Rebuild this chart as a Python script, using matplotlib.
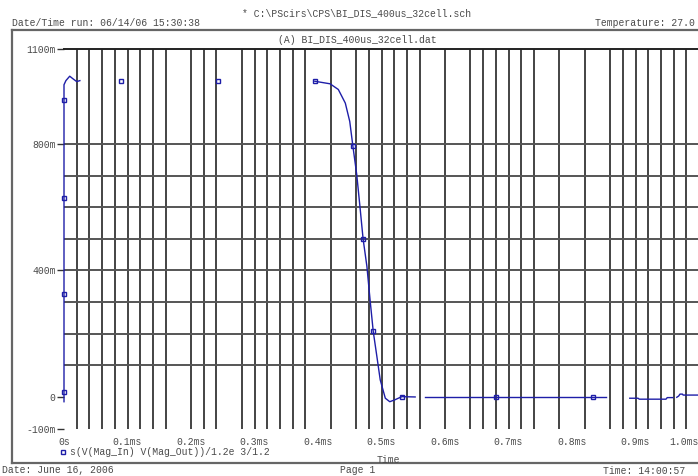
import matplotlib as mpl
mpl.use('Agg')
import matplotlib.pyplot as plt
from matplotlib.lines import Line2D

# PSpice probe output, time in ms, value in "m" units
W, H = 698, 476

rise_t = [0, 0, 0, 0, 0, 0, 0.003, 0.009, 0.014, 0.020, 0.025]
rise_v = [-15, 16, 326, 630, 940, 987, 1000, 1014, 1006, 997, 1000]

fall_t = [0.395, 0.419, 0.432, 0.443, 0.450, 0.455, 0.461, 0.466, 0.471, 0.477,
          0.482, 0.487, 0.492, 0.498, 0.506, 0.513, 0.521, 0.532, 0.553]
fall_v = [998, 990, 972, 929, 871, 792, 703, 603, 500, 413,
          307, 207, 138, 54, -4, -15, -9, 1, 0]

flat1_t = [0.568, 0.854]
flat1_v = [-1, -1]

flat2_t = [0.891, 0.904, 0.906, 0.948, 0.950, 0.959]
flat2_v = [-4, -4, -7, -7, -2, -2]

flat3_t = [0.965, 0.968, 0.970, 0.974, 0.975, 1.0]
flat3_v = [-1, 3, 9, 9, 6, 6]

mark_t = [0, 0, 0, 0, 0.090, 0.243, 0.395, 0.455, 0.471, 0.487, 0.532, 0.680, 0.833]
mark_v = [16, 326, 630, 940, 1000, 1000, 998, 792, 500, 207, 1, -1, -1]

xticks = [0.0, 0.1, 0.2, 0.3, 0.4, 0.5, 0.6, 0.7, 0.8, 0.9, 1.0]
xlabels = ['0s', '0.1ms', '0.2ms', '0.3ms', '0.4ms', '0.5ms',
           '0.6ms', '0.7ms', '0.8ms', '0.9ms', '1.0ms']
yticks = [-100, 0, 400, 800, 1100]
ylabels = ['-100m', '0', '400m', '800m', '1100m']

hgrid = [100, 200, 300, 400, 500, 600, 700, 800]
missing = [9, 13, 20, 22, 29, 31, 38, 40, 42]   # vertical lines lost in the print
vgrid = [k * 0.02 for k in range(1, 50) if k not in missing]

BLUE = '#1e1ea8'
TXT = '#4a4a4a'
FONT = 'Liberation Mono'
FS = 7

fig = plt.figure(figsize=(W / 100, H / 100), dpi=100)

def px(x, y):
    return x / W, 1 - y / H

l, b = px(64, 428.6)
r, t = px(699, 49)
ax = fig.add_axes([l, b, r - l, t - b])
ax.set_xlim(0, 1.0)
ax.set_ylim(-100, 1100)

# grid
ax.vlines(vgrid, -100, 1100, color='#111111', lw=1.1, zorder=1)
ax.hlines(hgrid, 0, 1.0, color='#555555', lw=1.4, zorder=1)

# trace
for tt, vv in [(rise_t, rise_v), (fall_t, fall_v), (flat1_t, flat1_v),
               (flat2_t, flat2_v), (flat3_t, flat3_v)]:
    ax.plot(tt, vv, color=BLUE, lw=1.0, zorder=3, clip_on=False)
ax.plot(mark_t, mark_v, ls='none', marker='s', ms=3.2, mfc='none', mec=BLUE,
        mew=1.0, zorder=4, clip_on=False)

for s in ['left', 'right', 'bottom']:
    ax.spines[s].set_visible(False)
ax.spines['top'].set_color('#222222')
ax.spines['top'].set_linewidth(1.4)

ax.set_xticks(xticks)
ax.set_xticklabels(xlabels, family=FONT, fontsize=FS, color=TXT)
ax.tick_params(axis='x', length=0, pad=6)
ax.xaxis.get_ticklabels()[-1].set_ha('right')
ax.set_yticks(yticks)
ax.set_yticklabels(ylabels, family=FONT, fontsize=FS, color=TXT)
ax.tick_params(axis='y', length=5, width=1, color='#333333', pad=1)

# page frame
fig.add_artist(Line2D([12 / W, 1], [1 - 30 / H] * 2, color='#666666', lw=1.6))
fig.add_artist(Line2D([12 / W, 1], [1 - 463 / H] * 2, color='#666666', lw=1.6))
fig.add_artist(Line2D([12 / W] * 2, [1 - 30 / H, 1 - 463 / H], color='#666666', lw=1.6))

def put(x, y, s, ha='left'):
    fig.text(x / W, 1 - y / H, s, family=FONT, fontsize=FS, color=TXT,
             ha=ha, va='center')

put(357, 13, r'* C:\PScirs\CPS\BI_DIS_400us_32cell.sch', ha='center')
put(12, 23, 'Date/Time run: 06/14/06 15:30:38')
put(695, 23, 'Temperature: 27.0', ha='right')
put(357, 40, '(A) BI_DIS_400us_32cell.dat', ha='center')
put(70, 452, 's(V(Mag_In) V(Mag_Out))/1.2e 3/1.2')
put(388, 460, 'Time', ha='center')
put(2, 470, 'Date: June 16, 2006')
put(340, 470, 'Page 1')
put(603, 471, 'Time: 14:00:57')

fig.add_artist(Line2D([63 / W], [1 - 452 / H], ls='none', marker='s', ms=3.2,
                      mfc='none', mec=BLUE, mew=1.0))

plt.savefig('out.png', dpi=100)
